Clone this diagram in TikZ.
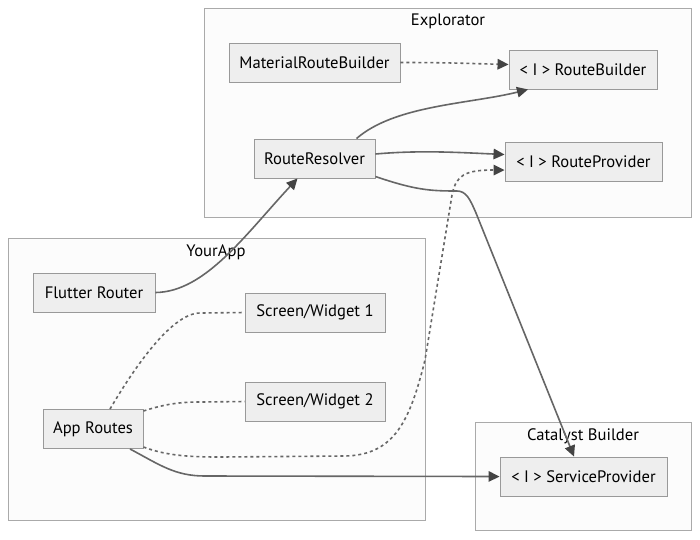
\documentclass[tikz,border=0pt]{standalone}
\usepackage{fontspec}
\setmainfont{PT Sans}
\usetikzlibrary{arrows.meta}
\definecolor{nodefill}{HTML}{EEEEEE}
\definecolor{nodedraw}{HTML}{999999}
\definecolor{clfill}{HTML}{FCFCFC}
\definecolor{cldraw}{HTML}{AAAAAA}
\definecolor{edgecol}{HTML}{666666}
\definecolor{tipcol}{HTML}{444444}
\tikzset{
  box/.style={draw=nodedraw, fill=nodefill, line width=0.9pt, minimum height=39pt, inner sep=0pt, font=\fontsize{16.6}{18}\selectfont, text=black},
  cluster/.style={draw=cldraw, fill=clfill, line width=1pt},
  cltitle/.style={font=\fontsize{16.6}{18}\selectfont, text=black},
  edge/.style={draw=edgecol, line width=1.6pt},
  dotedge/.style={draw=edgecol, line width=1.6pt, dash pattern=on 3pt off 3pt},
  tip/.style={-{Triangle[length=11pt,width=10.5pt,color=tipcol]}}
}
\begin{document}
\begin{tikzpicture}[x=1pt,y=-1pt]
\useasboundingbox (0,0) rectangle (700,539);
\fill[white] (0,0) rectangle (700,539);
% clusters
\draw[cluster] (204,8) rectangle (691,217);
\draw[cluster] (8,238) rectangle (425,520);
\draw[cluster] (475,422) rectangle (691,530);
\node[cltitle] (tExp) at (448,21) {Explorator};
\node[cltitle] (tApp) at (216,252) {YourApp};
\node[cltitle] (tCat) at (583,436) {Catalyst Builder};
% nodes
\node[box, minimum width=171pt] (mrb) at (314.5,62.5) {MaterialRouteBuilder};
\node[box, minimum width=148pt] (rb) at (583,69.5) {< I > RouteBuilder};
\node[box, minimum width=121pt] (rr) at (314.5,158.5) {RouteResolver};
\node[box, minimum width=157pt] (rp) at (583.5,161.5) {< I > RouteProvider};
\node[box, minimum width=122pt] (fr) at (94,292.5) {Flutter Router};
\node[box, minimum width=140pt] (sw1) at (315,312.5) {Screen/Widget 1};
\node[box, minimum width=140pt] (sw2) at (315,401.5) {Screen/Widget 2};
\node[box, minimum width=100pt] (ar) at (93,429) {App Routes};
\node[box, minimum width=167pt] (sp) at (583.5,476.5) {< I > ServiceProvider};
% edges
\draw[dotedge, tip] (mrb.east) .. controls +(50,0) and +(-40,-1) .. ([yshift=5pt]rb.west);
\draw[edge, tip] ([xshift=42pt]rr.north) .. controls (395,105) and (470,104) .. ([xshift=-55pt]rb.south);
\draw[edge, tip] ([yshift=4.5pt]rr.east) .. controls +(45,-4) and +(-45,-2) .. ([yshift=7pt]rp.west);
\draw[edge, tip] ([yshift=-18pt]rr.east) .. controls (415,190) and (430,191) .. (457,191)
   .. controls (466,191) and (470,199) .. (476,213) -- ([xshift=-9.5pt]sp.north);
\draw[edge, tip] (fr.east) .. controls (205,292) and (245,235) .. ([xshift=-17pt]rr.south);
\draw[dotedge] ([xshift=17pt]ar.north) .. controls (130,375) and (170,313) .. (200,313) -- (sw1.west);
\draw[dotedge] ([yshift=18pt]ar.east) .. controls (165,404) and (180,402) .. (200,402) -- (sw2.west);
\draw[dotedge, tip] ([yshift=-18pt]ar.east) .. controls (165,455) and (185,457) .. (220,457) -- (345,456)
   .. controls (395,455) and (410,420) .. (425,360) -- (452,195) .. controls (456,175) and (465,170) .. ([yshift=-8.5pt]rp.west);
\draw[edge, tip] ([xshift=37pt]ar.south) .. controls (160,465) and (175,476) .. (205,476) -- (sp.west);
\end{tikzpicture}
\end{document}
